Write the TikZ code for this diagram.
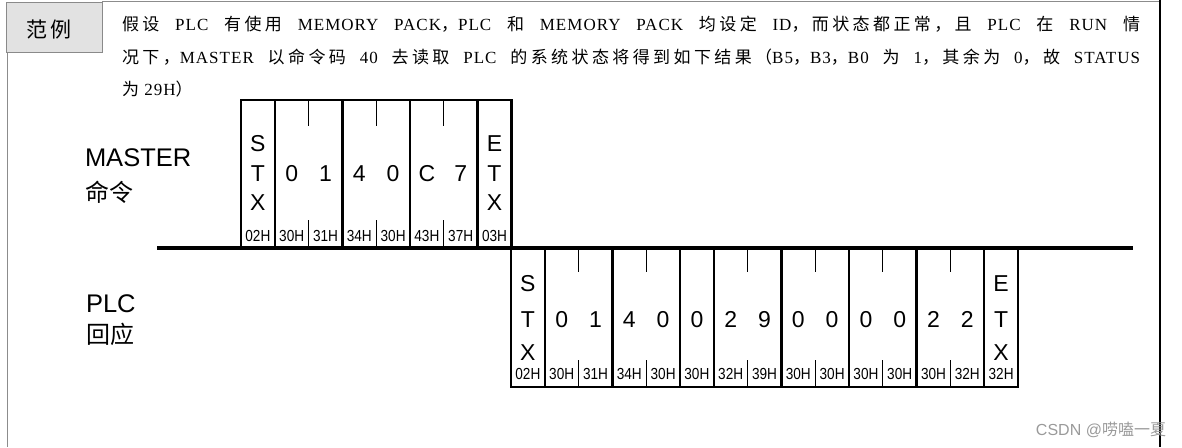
\documentclass[tikz,border=0pt]{standalone}
\usepackage{fontspec}
\setmainfont{Liberation Serif}
\newfontfamily\zhbody{Noto Sans CJK SC}[LetterSpace=20]
\newfontfamily\latbody{Liberation Serif}[LetterSpace=6]
\newfontfamily\zhf{Noto Sans CJK SC}
\newfontfamily\sansf{Liberation Sans}
\newcommand\Z[1]{{\zhbody #1}}
\definecolor{framegray}{HTML}{8C8C8C}
\definecolor{boxgray}{HTML}{8A8A8A}
\definecolor{boxfill}{HTML}{E2E2E2}
\definecolor{wmgray}{HTML}{9A9A9A}
\begin{document}
\begin{tikzpicture}[x=1pt,y=-1pt,
  txt/.style={inner sep=0pt, outer sep=0pt},
  body/.style={txt, anchor=base west, font=\latbody\fontsize{17}{20}\selectfont},
  lab/.style={txt, anchor=base west, font=\sansf\fontsize{25.5}{30}\selectfont},
  zlab/.style={txt, anchor=base west, font=\zhf\fontsize{24}{28}\selectfont},
  cell/.style={txt, font=\sansf\fontsize{23}{27}\selectfont},
  hex/.style={txt, font=\sansf\fontsize{16}{19}\selectfont},
  heavy/.style={line width=2.5pt},
  thinl/.style={line width=1.3pt},
  bus/.style={line width=4pt},
]
\useasboundingbox (0,0) rectangle (1182,447);

% frame
\draw[framegray, line width=1.5pt] (7.5,52) -- (7.5,447);
\draw[framegray, line width=1.2pt] (102,1.5) -- (1160,1.5);
\draw[black, line width=1.5pt] (1160,0) -- (1160,447);
\node[draw=boxgray, fill=boxfill, line width=1.2pt, minimum width=96pt, minimum height=50pt, inner sep=0pt, anchor=north west] (ex) at (6,2) {};
\node[txt, font=\zhf\fontsize{21}{24}\selectfont] (extxt) at (49,30) {范\,例};

% description
\node[body] (l1) at (122,30) {\makebox[1018pt][s]{\Z{假设} PLC \Z{有使用} MEMORY PACK\Z{，}PLC \Z{和} MEMORY PACK \Z{均设定} ID\Z{，而状态都正常，且} PLC \Z{在} RUN \Z{情}}};
\node[body] (l2) at (122,63.5) {\makebox[1018pt][s]{\Z{况下，}MASTER \Z{以命令码} 40 \Z{去读取} PLC \Z{的系统状态将得到如下结果（}B5\Z{，}B3\Z{，}B0 \Z{为} 1\Z{，其余为} 0\Z{，故} STATUS}};
\node[body] (l3) at (122,95) {\Z{为} 29H\Z{）}};

% labels
\node[lab] (master) at (85,166.5) {MASTER};
\node[zlab] (mcmd) at (85,201) {命令};
\node[lab] (plc) at (86,312) {PLC};
\node[zlab] (presp) at (86,343) {回应};

% bus
\coordinate (busL) at (157,247.5);
\coordinate (busR) at (1133,247.5);
\draw[bus] (busL) -- (busR);

% MASTER frame
\draw[heavy] (241,100) rectangle (511.4,248);
\foreach \i in {1,3,5,7} \draw[heavy] ({241+\i*33.8},100) -- ({241+\i*33.8},248);
\foreach \i in {2,4,6} {
  \draw[thinl] ({241+\i*33.8},100) -- ({241+\i*33.8},126);
  \draw[thinl] ({241+\i*33.8},220) -- ({241+\i*33.8},248);
}
\foreach \t [count=\i from 0] in {02H,30H,31H,34H,30H,43H,37H,03H}
  \node[hex] (mh\i) at ({241+(\i+0.5)*33.8},236) {\scalebox{0.85}[1]{\t}};
\foreach \t [count=\i from 1] in {0,1,4,0,C,7}
  \node[cell] (md\i) at ({241+(\i+0.5)*33.8},174) {\t};
\node[cell] (ms1) at ({241+0.5*33.8},144) {S};
\node[cell] (ms2) at ({241+0.5*33.8},174) {T};
\node[cell] (ms3) at ({241+0.5*33.8},202.5) {X};
\node[cell] (me1) at ({241+7.5*33.8},144) {E};
\node[cell] (me2) at ({241+7.5*33.8},174) {T};
\node[cell] (me3) at ({241+7.5*33.8},202.5) {X};

% PLC frame
\draw[heavy] (511,247.5) rectangle (1018,387);
\foreach \i in {1,3,5,6,8,10,12,14} \draw[heavy] ({511+\i*33.8},247.5) -- ({511+\i*33.8},387);
\foreach \i in {2,4,7,9,11,13} {
  \draw[thinl] ({511+\i*33.8},247.5) -- ({511+\i*33.8},272);
  \draw[thinl] ({511+\i*33.8},360) -- ({511+\i*33.8},387);
}
\foreach \t [count=\i from 0] in {02H,30H,31H,34H,30H,30H,32H,39H,30H,30H,30H,30H,30H,32H,32H}
  \node[hex] (ph\i) at ({511+(\i+0.5)*33.8},374) {\scalebox{0.85}[1]{\t}};
\foreach \t [count=\i from 1] in {0,1,4,0,0,2,9,0,0,0,0,2,2}
  \node[cell] (pd\i) at ({511+(\i+0.5)*33.8},319.5) {\t};
\node[cell] (ps1) at ({511+0.5*33.8},283.5) {S};
\node[cell] (ps2) at ({511+0.5*33.8},319.5) {T};
\node[cell] (ps3) at ({511+0.5*33.8},352.5) {X};
\node[cell] (pe1) at ({511+14.5*33.8},283.5) {E};
\node[cell] (pe2) at ({511+14.5*33.8},319.5) {T};
\node[cell] (pe3) at ({511+14.5*33.8},352.5) {X};

% watermark
\node[txt, anchor=base east, text=wmgray, font=\sansf\fontsize{16}{19}\selectfont] (wm) at (1166,435) {CSDN @{\zhf 唠嗑一夏}};
\end{tikzpicture}
\end{document}
